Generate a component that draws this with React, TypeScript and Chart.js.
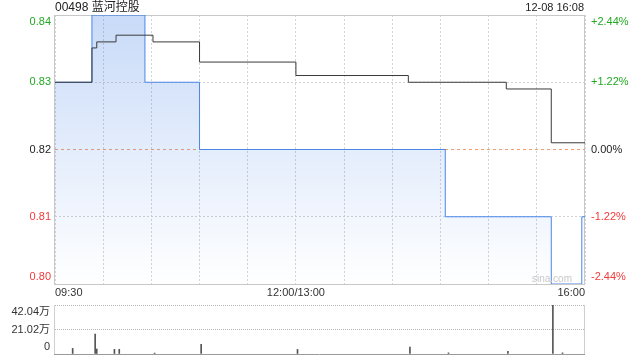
import React, { useEffect, useRef } from 'react';
import { Chart, registerables } from 'chart.js';

Chart.register(...registerables);

// ---------- data ----------
const stockTitle = '00498 蓝河控股';
const stampText = '12-08 16:08';
const watermark = 'sina.com';
const prevClose = 0.82;
const priceTicks = [0.8, 0.81, 0.82, 0.83, 0.84];
const volumeTicks = [0, 21.02, 42.04];
const volumeUnit = '万';
const timeLabels = ['09:30', '12:00/13:00', '16:00'];

// price (step changes)
const priceTimes = ['09:30', '09:53', '10:26', '11:00', '14:33', '15:39', '15:58', '16:00'];
const priceValues = [0.83, 0.84, 0.83, 0.82, 0.81, 0.8, 0.81, 0.81];

// average price (step changes)
const avgTimes = ['09:30', '09:53', '09:56', '10:08', '10:31', '11:00', '13:00', '14:10', '15:11', '15:39', '16:00'];
const avgValues = [0.83, 0.8351, 0.836, 0.837, 0.836, 0.833, 0.831, 0.83, 0.829, 0.821, 0.821];

// volume (万)
const volumeTimes = ['09:41', '09:55', '09:56', '10:07', '10:10', '10:32', '11:01', '13:01', '14:11', '14:35', '15:12', '15:40', '15:46'];
const volumeValues = [4.8, 17.0, 4.3, 4.0, 4.0, 0.8, 8.4, 3.9, 6.0, 1.0, 2.3, 42.04, 1.0];

// ---------- helpers ----------
const FONT = 'Arial, "Liberation Sans", "Noto Sans CJK SC", sans-serif';
const GREEN = '#22a822';
const RED = '#f23a3a';

// trading-minute index since 09:30 (lunch break removed)
const toIdx = (t: string) => {
  const [h, m] = t.split(':').map(Number);
  const mins = h * 60 + m - (9 * 60 + 30);
  return h >= 13 ? mins - 60 : mins;
};

const edgeLabel = (s: string, i: number, n: number): string | string[] =>
  i === n - 1 ? ['', s] : i === 0 ? [s, ''] : s;

const priceColor = (v: number) =>
  Math.abs(v - prevClose) < 1e-9 ? '#222' : v > prevClose ? GREEN : RED;

const pctLabel = (v: number) => {
  const p = ((v - prevClose) / prevClose) * 100;
  if (Math.abs(p) < 1e-9) return '0.00%';
  return (p > 0 ? '+' : '') + p.toFixed(2) + '%';
};

const framePlugin = (color: string, bottomColor: string, top: boolean) => ({
  id: 'frame',
  beforeDatasetsDraw(chart: any) {
    const { ctx, chartArea: a } = chart;
    ctx.save();
    ctx.lineWidth = 1;
    ctx.strokeStyle = color;
    ctx.beginPath();
    ctx.moveTo(a.left - 0.5, a.top);
    ctx.lineTo(a.left - 0.5, a.bottom + 1);
    ctx.moveTo(a.right - 0.5, a.top);
    ctx.lineTo(a.right - 0.5, a.bottom + 1);
    if (top) {
      ctx.moveTo(a.left - 1, a.top + 0.5);
      ctx.lineTo(a.right, a.top + 0.5);
    }
    ctx.stroke();
    ctx.strokeStyle = bottomColor;
    ctx.beginPath();
    ctx.moveTo(a.left - 1, a.bottom + 0.5);
    ctx.lineTo(a.right, a.bottom + 0.5);
    ctx.stroke();
    ctx.restore();
  },
});

export default function App() {
  const mainRef = useRef<HTMLCanvasElement>(null);
  const volRef = useRef<HTMLCanvasElement>(null);

  useEffect(() => {
    const font = { family: FONT, size: 11 };
    const priceData = priceTimes.map((t, i) => ({ x: toIdx(t), y: priceValues[i] }));
    const avgData = avgTimes.map((t, i) => ({ x: toIdx(t), y: avgValues[i] }));
    const refData = [
      { x: toIdx(timeLabels[0]), y: prevClose },
      { x: toIdx(timeLabels[2]), y: prevClose },
    ];
    const labelAt: Record<number, string> = {
      [toIdx('09:30')]: timeLabels[0],
      [toIdx('12:00')]: timeLabels[1],
      [toIdx('16:00')]: timeLabels[2],
    };

    const main = new Chart(mainRef.current as HTMLCanvasElement, {
      type: 'line',
      data: {
        datasets: [
          {
            label: '均价',
            data: avgData,
            borderColor: '#3a3a3a',
            borderWidth: 1,
            stepped: 'before',
            pointRadius: 0,
            fill: false,
          },
          {
            label: '价格',
            data: priceData,
            borderColor: '#4a86e8',
            borderWidth: 1,
            stepped: 'before',
            pointRadius: 0,
            fill: 'start',
            backgroundColor: (ctx: any) => {
              const { chart } = ctx;
              const a = chart.chartArea;
              if (!a) return 'rgba(74,134,232,0.15)';
              const g = chart.ctx.createLinearGradient(0, a.top, 0, a.bottom);
              g.addColorStop(0, 'rgba(74,134,232,0.30)');
              g.addColorStop(1, 'rgba(74,134,232,0.0)');
              return g;
            },
          },
          {
            label: '昨收',
            data: refData,
            borderColor: 'rgba(238,140,90,0.85)',
            borderDash: [3, 3],
            borderWidth: 1,
            pointRadius: 0,
            fill: false,
          },
        ],
      } as any,
      options: {
        responsive: false,
        animation: false,
        devicePixelRatio: 1,
        layout: { padding: { top: 15, left: 0, right: 0, bottom: 0 } },
        plugins: { legend: { display: false }, tooltip: { enabled: false } },
        scales: {
          x: {
            type: 'linear',
            min: 0,
            max: 330,
            offset: false,
            ticks: {
              stepSize: 30,
              autoSkip: false,
              maxRotation: 0,
              align: 'inner',
              padding: 2,
              color: '#333',
              font,
              callback: (v: any) => labelAt[v as number] ?? '',
            },
            grid: { color: '#d2d2d2', drawTicks: false, lineWidth: 1 },
            border: { display: false, dash: [2, 2] },
            afterFit: (s: any) => {
              s.height = 16;
              s.paddingLeft = 0;
              s.paddingRight = 0;
            },
          },
          y: {
            position: 'left',
            min: priceTicks[0],
            max: priceTicks[priceTicks.length - 1],
            afterBuildTicks: (s: any) => {
              s.ticks = priceTicks.map((v) => ({ value: v }));
            },
            ticks: {
              autoSkip: false,
              padding: 4,
              font,
              color: (c: any) => priceColor(c.tick.value),
              callback: (v: any, i: number, t: any[]) => edgeLabel((v as number).toFixed(2), i, t.length),
            },
            grid: {
              drawTicks: false,
              color: (c: any) =>
                c.tick && Math.abs(c.tick.value - prevClose) < 1e-9 ? 'rgba(0,0,0,0)' : '#d2d2d2',
            },
            border: { display: false, dash: [2, 2] },
            afterFit: (s: any) => {
              s.width = 55;
              s.paddingTop = 0;
              s.paddingBottom = 0;
            },
          },
          y2: {
            position: 'right',
            min: priceTicks[0],
            max: priceTicks[priceTicks.length - 1],
            afterBuildTicks: (s: any) => {
              s.ticks = priceTicks.map((v) => ({ value: v }));
            },
            ticks: {
              autoSkip: false,
              padding: 6,
              font,
              color: (c: any) => priceColor(c.tick.value),
              callback: (v: any, i: number, t: any[]) => edgeLabel(pctLabel(v as number), i, t.length),
            },
            grid: { display: false, drawTicks: false },
            border: { display: false },
            afterFit: (s: any) => {
              s.width = 55;
              s.paddingTop = 0;
              s.paddingBottom = 0;
            },
          },
        },
      } as any,
      plugins: [framePlugin('#c8c8c8', '#c8c8c8', true)],
    });

    const volData = volumeTimes.map((t, i) => ({ x: toIdx(t), y: volumeValues[i] }));
    const vol = new Chart(volRef.current as HTMLCanvasElement, {
      type: 'bar',
      data: {
        datasets: [
          {
            label: '成交量',
            data: volData,
            backgroundColor: '#555',
            barThickness: 1,
            grouped: false,
          },
        ],
      } as any,
      options: {
        responsive: false,
        animation: false,
        devicePixelRatio: 1,
        layout: { padding: { top: 5, left: 0, right: 55, bottom: 6 } },
        plugins: { legend: { display: false }, tooltip: { enabled: false } },
        scales: {
          x: { type: 'linear', min: 0, max: 330, offset: false, display: false },
          y: {
            min: 0,
            max: volumeTicks[volumeTicks.length - 1],
            afterBuildTicks: (s: any) => {
              s.ticks = volumeTicks.map((v) => ({ value: v }));
            },
            ticks: {
              autoSkip: false,
              padding: 5,
              font,
              color: '#333',
              callback: (v: any, i: number, t: any[]) =>
                edgeLabel(v === 0 ? '0' : (v as number).toFixed(2) + volumeUnit, i, t.length),
            },
            grid: {
              drawTicks: false,
              color: (c: any) => (c.tick && c.tick.value === 0 ? 'rgba(0,0,0,0)' : '#b4b4b4'),
            },
            border: { display: false, dash: [1, 1] },
            afterFit: (s: any) => {
              s.width = 55;
              s.paddingTop = 0;
              s.paddingBottom = 0;
            },
          },
        },
      } as any,
      plugins: [framePlugin('#cfcfcf', '#9a9a9a', false)],
    });

    return () => {
      main.destroy();
      vol.destroy();
    };
  }, []);

  return (
    <div
      style={{
        position: 'absolute',
        left: 0,
        top: 0,
        width: 640,
        height: 360,
        background: '#fff',
        overflow: 'hidden',
        fontFamily: FONT,
      }}
    >
      <canvas
        ref={mainRef}
        width={640}
        height={300}
        style={{ position: 'absolute', left: 0, top: 0, width: 640, height: 300, display: 'block' }}
      />
      <canvas
        ref={volRef}
        width={640}
        height={60}
        style={{ position: 'absolute', left: 0, top: 300, width: 640, height: 60, display: 'block' }}
      />
      <div
        style={{
          position: 'absolute',
          left: 55,
          top: 0,
          fontSize: 12,
          lineHeight: '15px',
          color: '#222',
          whiteSpace: 'nowrap',
        }}
      >
        {stockTitle}
      </div>
      <div
        style={{
          position: 'absolute',
          right: 56,
          top: 0,
          fontSize: 11,
          lineHeight: '15px',
          color: '#222',
          whiteSpace: 'nowrap',
        }}
      >
        {stampText}
      </div>
      <div
        style={{
          position: 'absolute',
          left: 532,
          top: 273,
          fontSize: 10,
          lineHeight: '12px',
          color: '#c8c8c8',
          whiteSpace: 'nowrap',
        }}
      >
        {watermark}
      </div>
    </div>
  );
}
